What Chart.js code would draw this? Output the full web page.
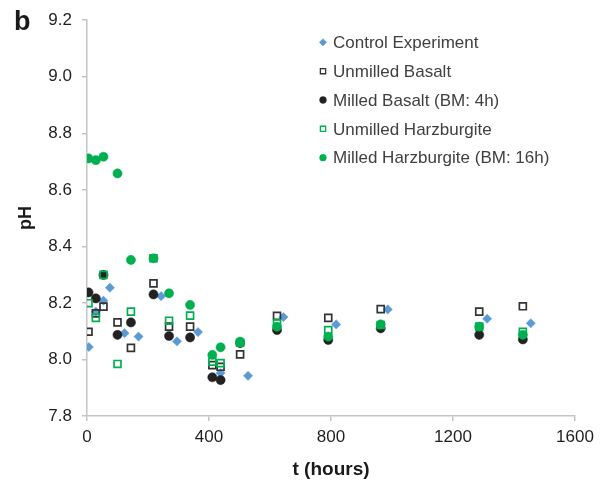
<!DOCTYPE html>
<html>
<head>
<meta charset="utf-8">
<script src="https://cdn.jsdelivr.net/npm/chart.js@4/dist/chart.umd.min.js"></script>
<style>
html,body{margin:0;padding:0;background:#fff;}
#wrap{width:603px;height:489px;position:relative;}
</style>
</head>
<body>
<div id="wrap"><canvas id="c" width="603" height="489"></canvas></div>
<script>
// ---- data (t in hours, pH) ----
const seriesNames = ["Control Experiment","Unmilled Basalt","Milled Basalt (BM: 4h)","Unmilled Harzburgite","Milled Harzburgite (BM: 16h)"];

const controlT  = [6, 29, 54, 75, 123, 169, 243, 295, 364, 438, 528, 644, 817, 986, 1312, 1455];
const controlPH = [8.044, 8.169, 8.208, 8.254, 8.093, 8.081, 8.224, 8.064, 8.097, 7.952, 7.942, 8.150, 8.124, 8.177, 8.144, 8.128];

const sampleT = [5, 29, 54, 100, 144, 218, 269, 338, 411, 438, 502, 623, 791, 963, 1286, 1429];
const unmilledBasaltPH   = [8.098, 8.163, 8.187, 8.131, 8.041, 8.269, 8.116, 8.116, 7.980, 7.974, 8.018, 8.154, 8.147, 8.178, 8.169, 8.188];
const milledBasaltPH     = [8.237, 8.216, 8.299, 8.087, 8.131, 8.230, 8.083, 8.078, 7.937, 7.927, 8.058, 8.104, 8.069, 8.110, 8.087, 8.071];
const unmilledHarzPH     = [8.199, 8.147, 8.299, 7.984, 8.169, 8.358, 8.137, 8.155, 7.992, 7.987, 8.059, 8.128, 8.104, 8.122, 8.116, 8.098];
const milledHarzPH       = [8.711, 8.705, 8.717, 8.658, 8.352, 8.358, 8.234, 8.193, 8.016, 8.043, 8.063, 8.116, 8.081, 8.124, 8.116, 8.087];

const xTicks = [0, 400, 800, 1200, 1600];
const yTicks = [7.8, 8.0, 8.2, 8.4, 8.6, 8.8, 9.0, 9.2];
const xTitle = "t (hours)";
const yTitle = "pH";
const panelLabel = "b";

function pts(xs, ys){ return xs.map((x,i)=>({x:x, y:ys[i]})); }

const BLUE = '#5B9BD5', GREEN = '#00B050', BLACK = '#222222', SQ = '#333333';
const FONT = "'Liberation Sans', Arial, Helvetica, sans-serif";

const datasets = [
  {label: seriesNames[0], data: pts(controlT, controlPH), pointStyle:'rectRot', pointRadius:4.6,
   backgroundColor: BLUE, borderColor: BLUE, borderWidth: 0.5, order:5,
   legendStyle:{style:'rectRot', r:3.6, fill:BLUE, stroke:BLUE, lw:0.5}},
  {label: seriesNames[1], data: pts(sampleT, unmilledBasaltPH), pointStyle:'rect', pointRadius:4.9,
   backgroundColor: 'rgba(0,0,0,0)', borderColor: SQ, borderWidth: 1.7, order:4,
   legendStyle:{style:'rect', r:3.7, fill:'rgba(0,0,0,0)', stroke:SQ, lw:1.3}},
  {label: seriesNames[2], data: pts(sampleT, milledBasaltPH), pointStyle:'circle', pointRadius:4.6,
   backgroundColor: BLACK, borderColor: BLACK, borderWidth: 0.5, order:3,
   legendStyle:{style:'circle', r:3.4, fill:BLACK, stroke:BLACK, lw:0.5}},
  {label: seriesNames[3], data: pts(sampleT, unmilledHarzPH), pointStyle:'rect', pointRadius:4.9,
   backgroundColor: 'rgba(0,0,0,0)', borderColor: GREEN, borderWidth: 1.7, order:2,
   legendStyle:{style:'rect', r:3.7, fill:'rgba(0,0,0,0)', stroke:GREEN, lw:1.3}},
  {label: seriesNames[4], data: pts(sampleT, milledHarzPH), pointStyle:'circle', pointRadius:4.6,
   backgroundColor: GREEN, borderColor: GREEN, borderWidth: 0.5, order:1,
   legendStyle:{style:'circle', r:3.4, fill:GREEN, stroke:GREEN, lw:0.5}}
];

const extrasPlugin = {
  id: 'extras',
  afterDraw(chart){
    const ctx = chart.ctx;
    ctx.save();
    // panel label
    ctx.fillStyle = '#1a1a1a';
    ctx.font = "bold 27px " + FONT;
    ctx.textAlign = 'left';
    ctx.textBaseline = 'alphabetic';
    ctx.fillText(panelLabel, 14, 30);
    // legend
    const mx = 323, tx = 333, y0 = 42.3, dy = 28.85;
    ctx.font = "17px " + FONT;
    ctx.textBaseline = 'middle';
    chart.data.datasets.forEach((ds, i) => {
      const y = y0 + i*dy;
      const s = ds.legendStyle;
      ctx.fillStyle = s.fill; ctx.strokeStyle = s.stroke; ctx.lineWidth = s.lw;
      Chart.helpers.drawPoint(ctx, {pointStyle: s.style, radius: s.r, borderWidth: s.lw, rotation:0}, mx, y);
      ctx.fillStyle = '#404040';
      ctx.fillText(ds.label, tx, y + 1);
    });
    ctx.restore();
  }
};

new Chart(document.getElementById('c'), {
  type: 'scatter',
  data: { datasets: datasets },
  options: {
    responsive: false,
    animation: false,
    events: [],
    layout: { padding: { top: 20, right: 28, left: 0, bottom: 0 } },
    plugins: { legend: { display: false }, tooltip: { enabled: false } },
    scales: {
      x: {
        type: 'linear', min: 0, max: 1600,
        afterBuildTicks(scale){ scale.ticks = xTicks.map(v => ({value: v})); },
        afterFit(scale){ scale.height = 73; },
        ticks: { color: '#1f1f1f', font: { size: 17, family: FONT }, padding: 6, maxRotation: 0,
                 callback: v => String(v) },
        grid: { drawOnChartArea: false, drawTicks: true, tickLength: 5, color: '#c4c4c4', lineWidth: 1.5 },
        border: { color: '#c4c4c4', width: 1.5 },
        title: { display: true, text: xTitle, color: '#1a1a1a',
                 font: { size: 19, weight: 'bold', family: FONT }, padding: { top: 0, bottom: 8 } }
      },
      y: {
        type: 'linear', min: 7.8, max: 9.2,
        afterBuildTicks(scale){ scale.ticks = yTicks.map(v => ({value: v})); },
        afterFit(scale){ scale.width = 87; },
        ticks: { color: '#1f1f1f', font: { size: 17, family: FONT }, padding: 10,
                 callback: v => Number(v).toFixed(1) },
        grid: { drawOnChartArea: false, drawTicks: true, tickLength: 5, color: '#c4c4c4', lineWidth: 1.5 },
        border: { color: '#c4c4c4', width: 1.5 },
        title: { display: true, text: yTitle, color: '#1a1a1a',
                 font: { size: 18, weight: 'bold', family: FONT }, padding: { top: 15, bottom: 0 } }
      }
    }
  },
  plugins: [extrasPlugin]
});
</script>
</body>
</html>
